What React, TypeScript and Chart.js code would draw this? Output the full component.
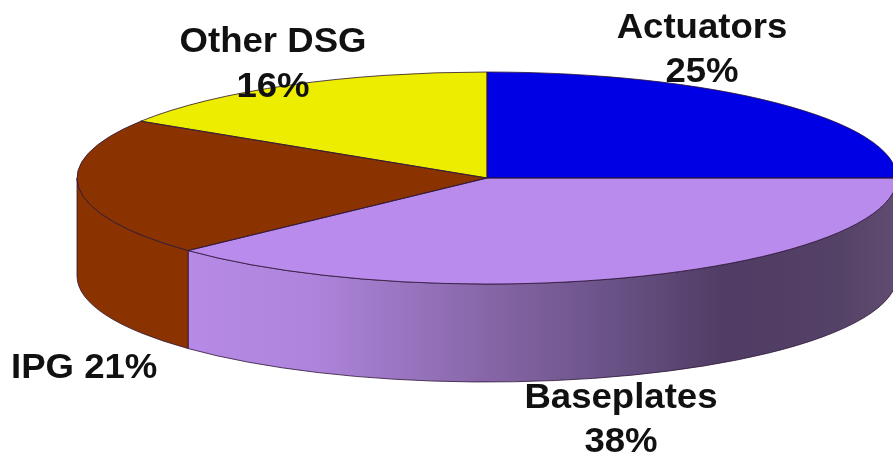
import React, { useEffect, useRef } from "react";
import { Chart, registerables } from "chart.js";

Chart.register(...registerables);

// Market share by product line, clockwise from twelve o'clock.
const categories = ["Actuators", "Baseplates", "IPG", "Other DSG"];
const shares = [25, 38, 21, 16];
const sliceColors = ["#0000E4", "#B98BEC", "#8B3300", "#EDED00"];

const WIDTH = 893;
const HEIGHT = 457;

// Geometry of the tilted disc.
const disc = { cx: 487, cy: 178, rx: 410, ry: 106, depth: 98 };
const outline = "rgba(45,20,55,0.8)";

// One entry per category: anchor x and baseline of every line of its label.
const labelLayout = [
  { x: 702, baselines: [38, 82], split: true, align: "center" },
  { x: 621, baselines: [408, 452], split: true, align: "center" },
  { x: 11, baselines: [378], split: false, align: "left" },
  { x: 273, baselines: [52, 97], split: true, align: "center" },
];

const wallFill = (ctx: CanvasRenderingContext2D, index: number) => {
  if (index !== 1) return sliceColors[index];
  // The baseplate wall falls into shadow towards the right.
  const g = ctx.createLinearGradient(188, 0, 893, 0);
  g.addColorStop(0, "#B68AE6");
  g.addColorStop(0.18, "#AD84DB");
  g.addColorStop(0.45, "#8363A2");
  g.addColorStop(0.62, "#665083");
  g.addColorStop(0.76, "#503C64");
  g.addColorStop(0.92, "#544166");
  g.addColorStop(1, "#604C70");
  return g;
};

const tiltedDisc = {
  id: "tiltedDisc",
  beforeDatasetsDraw(chart: any) {
    const { ctx } = chart;
    const arcs = chart.getDatasetMeta(0).data;
    const { cx, cy, rx, ry, depth } = disc;

    // Side wall: only the part of each slice that faces the viewer.
    arcs.forEach((arc: any, i: number) => {
      const a = Math.max(arc.startAngle, 0);
      const b = Math.min(arc.endAngle, Math.PI);
      if (b <= a) return;
      ctx.save();
      ctx.beginPath();
      ctx.ellipse(cx, cy, rx, ry, 0, a, b);
      ctx.ellipse(cx, cy + depth, rx, ry, 0, b, a, true);
      ctx.closePath();
      ctx.fillStyle = wallFill(ctx, i);
      ctx.fill();
      ctx.strokeStyle = outline;
      ctx.lineWidth = 1;
      ctx.stroke();
      ctx.restore();
    });

    // The arcs themselves are circular, so squash them onto the ellipse.
    const first = arcs[0];
    ctx.save();
    ctx.translate(cx, cy);
    ctx.scale(rx / first.outerRadius, ry / first.outerRadius);
    ctx.translate(-first.x, -first.y);
  },
  afterDatasetsDraw(chart: any) {
    const { ctx } = chart;
    ctx.restore();
    const { cx, cy, rx, ry } = disc;
    chart.getDatasetMeta(0).data.forEach((arc: any) => {
      ctx.beginPath();
      ctx.moveTo(cx, cy);
      ctx.ellipse(cx, cy, rx, ry, 0, arc.startAngle, arc.endAngle);
      ctx.closePath();
      ctx.strokeStyle = outline;
      ctx.lineWidth = 1;
      ctx.stroke();
    });
  },
  afterDraw(chart: any) {
    const { ctx } = chart;
    const stretch = 1.03;
    ctx.save();
    ctx.fillStyle = "#111111";
    ctx.font = 'bold 35.5px "Liberation Sans", Arial, sans-serif';
    ctx.textBaseline = "alphabetic";
    categories.forEach((name, i) => {
      const layout = labelLayout[i];
      const pct = `${shares[i]}%`;
      const lines = layout.split ? [name, pct] : [`${name} ${pct}`];
      lines.forEach((line, j) => {
        ctx.save();
        ctx.translate(layout.x, layout.baselines[j]);
        ctx.scale(stretch, 1);
        ctx.textAlign = layout.align;
        ctx.fillText(line, 0, 0);
        ctx.restore();
      });
    });
    ctx.restore();
  },
};

export default function App() {
  const ref = useRef<HTMLCanvasElement>(null);

  useEffect(() => {
    const chart = new Chart(ref.current!, {
      type: "pie",
      data: {
        labels: categories,
        datasets: [
          {
            data: shares,
            backgroundColor: sliceColors,
            borderWidth: 0,
            clip: false,
          },
        ],
      },
      options: {
        animation: false,
        responsive: false,
        devicePixelRatio: 1,
        layout: { padding: 0 },
        plugins: {
          legend: { display: false },
          tooltip: { enabled: false },
        },
      },
      plugins: [tiltedDisc],
    } as any);
    return () => chart.destroy();
  }, []);

  return (
    <div style={{ position: "fixed", left: 0, top: 0, width: WIDTH, height: HEIGHT, background: "#fff" }}>
      <canvas ref={ref} width={WIDTH} height={HEIGHT} style={{ display: "block" }} />
    </div>
  );
}
